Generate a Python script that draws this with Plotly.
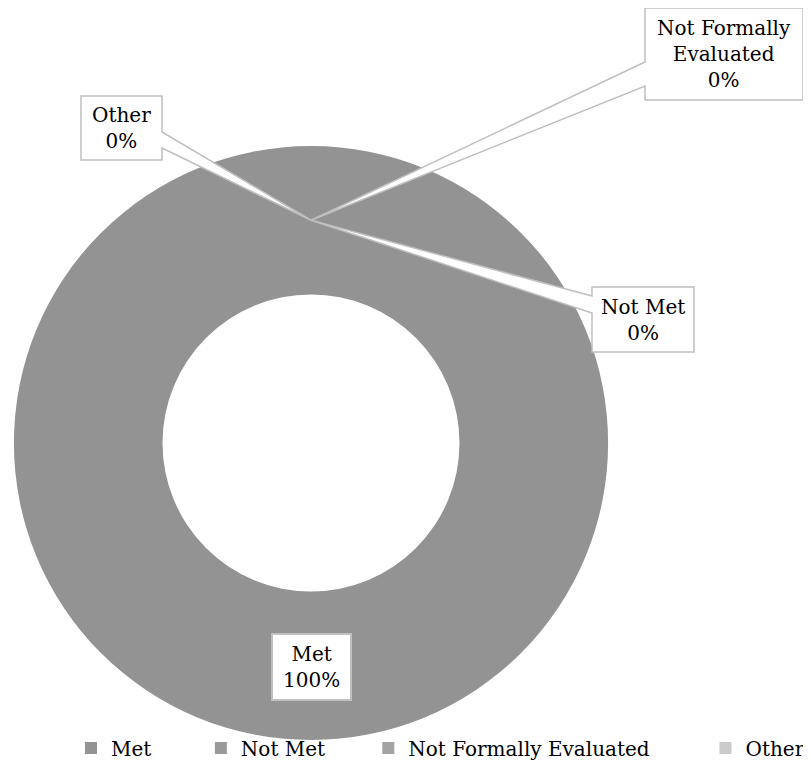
import plotly.graph_objects as go

W, H = 811, 767
FIG_W = 860  # a little wider than the window so the legend row never wraps
OFF = 8  # page body margin of the browser

categories = ["Met", "Not Met", "Not Formally Evaluated", "Other"]
values = [100, 0, 0, 0]
slice_colors = ["#939393", "#999999", "#a3a3a3", "#cbcbcb"]
label_texts = ["Met<br>100%", "Not Met<br>0%", "Not Formally<br>Evaluated<br>0%", "Other<br>0%"]

FONT = "DejaVu Serif"
FS = 20
BORDER = "#bfbfbf"
legend_pad = [7, 6, 8, 0]

# pie geometry (pixels)
cx, cy, R, HOLE = 311, 443, 297, 0.5


def X(px):
    return (px - OFF) / FIG_W


def Y(py):
    return 1 - (py - OFF) / H


fig = go.Figure()
fig.add_trace(go.Pie(
    labels=[c + "\u00a0" * n for c, n in zip(categories, legend_pad)],
    values=values,
    customdata=categories,
    hole=HOLE,
    sort=False,
    direction="clockwise",
    rotation=0,
    marker=dict(colors=slice_colors, line=dict(width=0)),
    textinfo="none",
    hovertemplate="%{customdata}: %{percent}<extra></extra>",
    domain=dict(x=[X(cx - R), X(cx + R)], y=[Y(cy + R), Y(cy - R)]),
    showlegend=True,
))

# anchor point of the callouts: middle of the ring at 12 o'clock
ax, ay = cx, cy - R * (1 + HOLE) / 2

# callout boxes: (x0, y0, x1, y1, tail_y_top, tail_y_bottom, side) in px
callouts = {
    "Other": (81, 96, 162, 160, 132, 148, "right"),
    "Not Formally Evaluated": (645, 8, 803, 100, 62, 86, "left"),
    "Not Met": (592, 287, 694, 352, 296, 313, "left"),
}

shapes = []
annotations = []
for name, (x0, y0, x1, y1, t1, t2, side) in callouts.items():
    if side == "left":
        pts = [(x0, y0), (x1, y0), (x1, y1), (x0, y1), (x0, t2), (ax, ay), (x0, t1)]
    else:
        pts = [(x0, y0), (x1, y0), (x1, t1), (ax, ay), (x1, t2), (x1, y1), (x0, y1)]
    path = "M " + " L ".join(f"{X(a):.5f},{Y(b):.5f}" for a, b in pts) + " Z"
    shapes.append(dict(type="path", xref="paper", yref="paper", path=path,
                       fillcolor="white", line=dict(color=BORDER, width=1.5)))
    idx = categories.index(name)
    annotations.append(dict(xref="paper", yref="paper", x=X((x0 + x1) / 2), y=Y((y0 + y1) / 2),
                            text=label_texts[idx], showarrow=False, xanchor="center", yanchor="middle",
                            font=dict(family=FONT, size=FS, color="black")))

# Met label box (inside the slice)
mx0, my0, mx1, my1 = 272, 634, 351, 700
shapes.append(dict(type="rect", xref="paper", yref="paper", x0=X(mx0), x1=X(mx1), y0=Y(my1), y1=Y(my0),
                   fillcolor="white", line=dict(color=BORDER, width=2)))
annotations.append(dict(xref="paper", yref="paper", x=X((mx0 + mx1) / 2), y=Y((my0 + my1) / 2),
                        text=label_texts[0], showarrow=False, xanchor="center", yanchor="middle",
                        font=dict(family=FONT, size=FS, color="black")))

fig.update_layout(
    width=FIG_W, height=H,
    margin=dict(l=0, r=0, t=0, b=0),
    paper_bgcolor="white",
    plot_bgcolor="white",
    font=dict(family=FONT, size=FS, color="black"),
    shapes=shapes,
    annotations=annotations,
    legend=dict(orientation="h", x=X(71), xanchor="left", y=Y(748), yanchor="middle",
                bgcolor="rgba(0,0,0,0)", font=dict(family=FONT, size=FS, color="black"),
                itemwidth=30, traceorder="normal"),
)

fig.write_html("out.html")
